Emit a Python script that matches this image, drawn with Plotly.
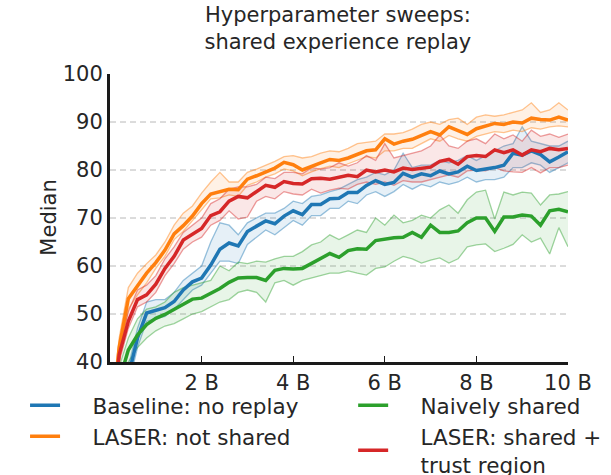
import plotly.graph_objects as go

# x positions: environment frames (billions)
frames_b = [0.0, 0.2, 0.4, 0.6, 0.8, 1.0, 1.2, 1.4, 1.6, 1.8,
            2.0, 2.2, 2.4, 2.6, 2.8, 3.0, 3.2, 3.4, 3.6, 3.8,
            4.0, 4.2, 4.4, 4.6, 4.8, 5.0, 5.2, 5.4, 5.6, 5.8,
            6.0, 6.2, 6.4, 6.6, 6.8, 7.0, 7.2, 7.4, 7.6, 7.8,
            8.0, 8.2, 8.4, 8.6, 8.8, 9.0, 9.2, 9.4, 9.6, 9.8, 10.0]

x_tickvals = [2, 4, 6, 8, 10]
x_ticktext = ["2 B", "4 B", "6 B", "8 B", "10 B"]
y_tickvals = [40, 50, 60, 70, 80, 90, 100]
grid_vals = [50, 60, 70, 80, 90]

# Baseline: no replay
baseline_med = [15, 30, 37, 45, 50.2, 50.8, 51.3, 52.6, 55, 56.7, 57.5, 60.2, 63.5, 64.8, 64.2, 67.2, 68.2,
                69.4, 68.8, 70.4, 71.5, 70.7, 72.8, 72.8, 74, 74.1, 75.3, 75.3, 76.8, 77.8, 77, 77.4, 79.3,
                78.5, 79.2, 78.8, 79.8, 79.2, 79.6, 80.8, 79.9, 80.2, 80.5, 81, 83.5, 83.1, 84, 83.2, 81.7,
                82.7, 83.8]
baseline_hi = [17, 32, 39, 47, 52.5, 53, 53, 54.5, 57, 58.5, 60, 65, 69, 68.5, 66.5, 69, 70, 71, 71, 72,
               73.5, 73, 74.5, 74.8, 75.5, 76, 77, 78, 78.5, 79.5, 79, 80, 83.5, 80.5, 81, 81, 82, 81.5,
               82, 83, 82, 83, 84, 85, 85.5, 89, 86, 85.5, 85, 85, 86]
baseline_lo = [13, 28, 35, 43, 48.5, 49, 49.5, 51, 53, 55, 56, 58.5, 61, 61, 60.5, 64.5, 66, 67.5, 66.5,
               68, 69.5, 68.5, 70.5, 70.5, 72, 72, 73.5, 73, 74.8, 75.5, 74.5, 75.5, 77, 76, 77, 76.5,
               77.5, 77, 77.5, 78.5, 77.5, 78, 78, 78.5, 80.5, 80.5, 81.5, 81, 79.5, 80.5, 81.5]

# LASER: not shared
laser_ns_med = [25, 43, 53.2, 55.8, 58.5, 60.7, 63.3, 66.7, 68.4, 70.4, 73, 75, 75.5, 76, 75.9, 78.1, 78.8,
                79.7, 80.4, 81.6, 81.1, 80, 80.8, 81.5, 82.2, 82, 82.5, 83.3, 84, 84.2, 86.5, 85.4, 86,
                86.4, 87.2, 88, 87.3, 89, 88.2, 87.4, 88.6, 89.2, 89.7, 89.5, 90, 89.8, 90.8, 90.5, 90.4,
                91, 90.4]
laser_ns_hi = [27, 45, 55.5, 58.5, 60.5, 62.3, 65, 68.5, 71, 72.5, 75.2, 77.5, 79.5, 77.5, 77.5, 79.5,
               80.2, 81, 81.8, 82.8, 83, 82.5, 82.8, 83.5, 84, 83.8, 84.5, 85.5, 85.7, 86, 87.5, 87.5,
               87.8, 88.5, 89.5, 90, 89.5, 90.5, 90.8, 89.5, 91, 91.5, 91.2, 91.5, 92, 92.5, 94, 92, 92.5,
               94, 92.5]
laser_ns_lo = [23, 40, 51, 54, 56.5, 59.5, 62, 65.5, 67.2, 69.5, 71.8, 74, 74.2, 74.8, 74.5, 76.8, 77.5,
               78.5, 79.2, 80.2, 79.8, 78.8, 79.6, 80.3, 80.8, 80.5, 81.3, 82, 82.8, 82.5, 84, 84, 84.5,
               84.5, 85.5, 86.5, 86, 87.2, 86.5, 86, 87, 87.5, 88, 87.8, 88.3, 88, 88.8, 88.5, 89, 89.2, 89]

# Naively shared
naive_med = [20, 36, 42.5, 45.6, 47.8, 49.1, 49.9, 51, 52, 53.1, 53.3, 54.2, 55.3, 56.6, 57.5, 57.6, 57.6,
             57, 59.1, 59.5, 59.4, 59.5, 60.5, 61.4, 62.6, 61.8, 63.2, 63.6, 63.5, 65.3, 65.6, 65.9, 66,
             67, 66, 68.5, 67, 67, 67.3, 69, 70, 70, 67.2, 70.2, 70.2, 70.6, 70.4, 68.5, 71.5, 71.8, 71.3]
naive_hi = [23, 39, 45, 49, 51, 51.5, 52.5, 54.5, 55.5, 56, 56.5, 57, 60, 59, 60.8, 60.5, 61, 60.8, 61.5,
            62, 62, 63, 64.4, 65, 66.5, 65.5, 66.5, 67.5, 67, 70, 68.5, 70.6, 69, 69.5, 70.6, 70, 71.7,
            72.7, 71, 73.8, 75.4, 75.8, 69.8, 75.4, 74.8, 75.4, 75.2, 72.7, 74.8, 75, 75.5]
naive_lo = [17, 33, 40, 43, 45, 46.5, 47.5, 48, 49, 50, 50.5, 51.5, 52.5, 53, 54.5, 55, 54.5, 52.5, 56.5,
            57, 56, 57, 57.5, 58, 58.5, 58.5, 59, 58.5, 58.1, 59.5, 59.8, 61, 62, 61.5, 60.6, 61.2, 61.7,
            60.6, 61.5, 64, 64.4, 64.6, 63, 63.7, 64.5, 66.5, 65, 65.8, 62.5, 68, 64]

# LASER: shared + trust region
laser_tr_med = [22, 41.5, 48.5, 53, 54, 56.2, 59.5, 62, 65.4, 66.5, 67.8, 70.5, 71.3, 73.5, 74.5, 74.2,
                75.4, 76.8, 76.4, 77.6, 77.2, 77.1, 78.2, 78.3, 78.1, 78.5, 78.9, 78.6, 80, 79.6, 80, 79.6,
                80.4, 80.1, 80.4, 80.6, 81.8, 82.2, 81.2, 82.8, 83, 82.8, 84.2, 83.6, 84.2, 83.1, 84.2,
                83.8, 84.5, 84.2, 84.5]
laser_tr_hi = [24, 43, 50.5, 55, 56, 58, 61.5, 64, 67, 68.5, 70, 73, 74, 76, 76.5, 76.5, 77, 78.5, 78.2,
               79.5, 79.5, 79.2, 80.5, 80.2, 80.5, 81.5, 80.8, 81.5, 83, 82, 85.5, 82.5, 83, 83.5, 84, 85,
               87.3, 85, 84.5, 86, 86.5, 85.5, 87.5, 86.5, 87.3, 86, 88.3, 87, 87.5, 86.8, 87.5]
laser_tr_lo = [20, 40, 47, 51.5, 52.5, 54.5, 58, 60.5, 63.5, 65, 66, 68.5, 69.5, 71.5, 69.8, 70.2, 73.5,
               74.5, 74, 75.5, 75, 74.8, 76, 75.2, 75.8, 76.2, 76, 77, 77.5, 77, 77.5, 76.8, 77.8, 77.5,
               77.5, 78, 78.5, 79, 78.5, 79.8, 80, 79.8, 80.5, 79.8, 79.6, 79.5, 80.5, 79.4, 80.5, 80.5, 81]


def rgba(hex_color, alpha):
    h = hex_color.lstrip('#')
    r, g, b = int(h[0:2], 16), int(h[2:4], 16), int(h[4:6], 16)
    return f'rgba({r},{g},{b},{alpha})'


# non-breaking padding so the legend text sits well right of its line, as in the original
PAD = '\u00a0' * 4

# name, colour, median, low, high, legend, rank
series = [
    ("Baseline: no replay", "#1f77b4", baseline_med, baseline_lo, baseline_hi, "legend", 1),
    ("LASER: not shared", "#ff7f0e", laser_ns_med, laser_ns_lo, laser_ns_hi, "legend", 2),
    ("Naively shared", "#2ca02c", naive_med, naive_lo, naive_hi, "legend2", 3),
    ("LASER: shared +<br>trust region", "#d62728", laser_tr_med, laser_tr_lo, laser_tr_hi, "legend2", 4),
]

fig = go.Figure()

for v in grid_vals:
    fig.add_hline(y=v, line_dash="6px,4px", line_color="#b8b8b8", line_width=1, layer="below")

# shaded min/max bands first
for name, color, med, lo, hi, leg, rank in series:
    fig.add_trace(go.Scatter(
        x=frames_b, y=lo, mode='lines',
        line=dict(color=rgba(color, 0.45), width=1.3),
        showlegend=False, hoverinfo='skip'
    ))
    fig.add_trace(go.Scatter(
        x=frames_b, y=hi, mode='lines', fill='tonexty',
        fillcolor=rgba(color, 0.11),
        line=dict(color=rgba(color, 0.45), width=1.3),
        showlegend=False, hoverinfo='skip'
    ))

# median lines on top
for name, color, med, lo, hi, leg, rank in series:
    label = '<br>'.join(PAD + part for part in name.split('<br>'))
    fig.add_trace(go.Scatter(
        x=frames_b, y=med, mode='lines', name=label,
        line=dict(color=color, width=3.5),
        legend=leg, legendrank=rank, legendgroup=name
    ))

legend_style = dict(
    xref='container', yref='container',
    xanchor='left', yanchor='top', orientation='v',
    font=dict(family='DejaVu Sans', size=21.5, color='#262626'),
    bgcolor='rgba(0,0,0,0)', itemwidth=30, tracegroupgap=0
)

# y-axis label, left of the tick labels
fig.add_annotation(
    text='Median', textangle=-90, showarrow=False,
    xref='paper', yref='paper', x=-0.134, y=0.5,
    xanchor='center', yanchor='middle',
    font=dict(size=21, color='#262626')
)

fig.update_layout(
    width=611, height=475,
    margin=dict(l=110, r=43, t=74, b=113, autoexpand=False),
    paper_bgcolor='white', plot_bgcolor='white',
    font=dict(family='DejaVu Sans', size=21, color='#262626'),
    title=dict(
        text='Hyperparameter sweeps:<br>shared experience replay',
        x=0.553, xanchor='center', y=0.954, yanchor='top',
        font=dict(size=21, color='#262626')
    ),
    xaxis=dict(
        range=[0, 10], tickvals=x_tickvals, ticktext=x_ticktext,
        ticks='inside', ticklen=6, tickwidth=1, tickcolor='#1a1a1a',
        showline=True, linecolor='#1a1a1a', linewidth=3,
        showgrid=False, zeroline=False, automargin=False
    ),
    yaxis=dict(
        range=[40, 100], tickvals=y_tickvals, ticks='',
        showline=True, linecolor='#1a1a1a', linewidth=3,
        showgrid=False, zeroline=False, automargin=False
    ),
    legend=dict(x=0.041, y=0.19, **legend_style),
    legend2=dict(x=0.578, y=0.19, **legend_style),
)

# drop the browser's default page margin so the 611x475 figure fills the window
fig.write_html("out.html", config={'displayModeBar': False},
               post_script="document.body.style.margin = '0px';")
